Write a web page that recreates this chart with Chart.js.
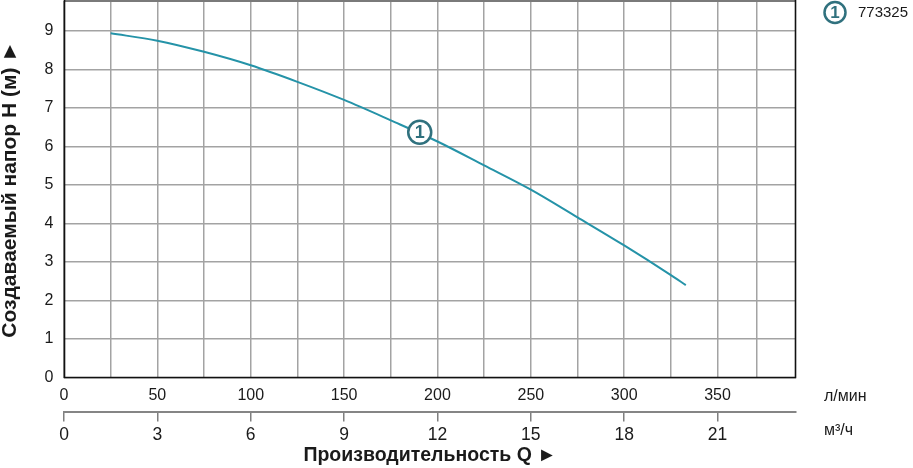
<!DOCTYPE html>
<html><head><meta charset="utf-8">
<script src="https://cdn.jsdelivr.net/npm/chart.js@4/dist/chart.umd.min.js"></script>
<style>html,body{margin:0;padding:0;background:#fff;overflow:hidden}canvas{display:block}</style>
</head><body>
<canvas id="c" width="913" height="468"></canvas>
<script>
// ---- data ----
const flowLmin = [25, 50, 75, 100, 125, 150, 175, 200, 225, 250, 275, 300, 325, 333];
const headM    = [8.94, 8.75, 8.46, 8.11, 7.68, 7.21, 6.68, 6.13, 5.51, 4.88, 4.16, 3.43, 2.66, 2.40];
const seriesName = '773325';
const seriesNumber = '1';
const markerFlow = [190.5];
const markerHead = [6.37];
const yTickValues = [0, 1, 2, 3, 4, 5, 6, 7, 8, 9];
const xGridValues = [0, 25, 50, 75, 100, 125, 150, 175, 200, 225, 250, 275, 300, 325, 350, 371];
const xLabelValues = [0, 50, 100, 150, 200, 250, 300, 350];
const x2TickValues = [0, 3, 6, 9, 12, 15, 18, 21];
const xMax = 392, yMax = 9.78, x2Max = 23.52;
const unitLmin = 'л/мин', unitM3h = 'м³/ч';
const yTitle = 'Создаваемый напор H (м) ►';
const xTitle = 'Производительность Q ►';

// ---- styles ----
const FONT = "'Liberation Sans', Arial, sans-serif";
const LINE = '#2593a8';
const MARK = '#30717e';
const GRID = '#a3a3a3';
const TXT = '#1a1a1a';
Chart.defaults.font.family = FONT;
Chart.defaults.color = TXT;

function noPad(s) { s.paddingTop = 0; s.paddingBottom = 0; s.paddingLeft = 0; s.paddingRight = 0; }

const extras = {
  id: 'extras',
  afterDraw(chart) {
    const ctx = chart.ctx, a = chart.chartArea;
    const xs = chart.scales.x, ys = chart.scales.y;
    ctx.save();
    // frame
    ctx.strokeStyle = '#7a7a7a'; ctx.lineWidth = 2;
    ctx.beginPath(); ctx.moveTo(a.left, 1); ctx.lineTo(a.right, 1); ctx.stroke();
    ctx.strokeStyle = '#111'; ctx.lineWidth = 1.6;
    ctx.beginPath();
    ctx.moveTo(a.left + 0.5, 0); ctx.lineTo(a.left + 0.5, a.bottom);
    ctx.lineTo(a.right - 0.5, a.bottom); ctx.lineTo(a.right - 0.5, 0);
    ctx.stroke();
    // curve marker
    markerFlow.forEach((q, i) => {
      const px = xs.getPixelForValue(q), py = ys.getPixelForValue(markerHead[i]);
      ctx.beginPath(); ctx.arc(px, py, 11.5, 0, Math.PI * 2);
      ctx.fillStyle = '#fff'; ctx.fill();
      ctx.lineWidth = 2.5; ctx.strokeStyle = MARK; ctx.stroke();
      ctx.fillStyle = MARK; ctx.font = 'bold 18px ' + FONT;
      ctx.textAlign = 'center'; ctx.textBaseline = 'middle';
      ctx.fillText(seriesNumber, px, py + 1);
    });
    // legend
    const lx = a.right + 39, ly = 12.5;
    ctx.beginPath(); ctx.arc(lx, ly, 10.5, 0, Math.PI * 2);
    ctx.fillStyle = '#fff'; ctx.fill();
    ctx.lineWidth = 2.5; ctx.strokeStyle = MARK; ctx.stroke();
    ctx.fillStyle = MARK; ctx.font = 'bold 17px ' + FONT;
    ctx.textAlign = 'center'; ctx.textBaseline = 'middle';
    ctx.fillText(seriesNumber, lx, ly + 1);
    ctx.fillStyle = TXT; ctx.font = '15px ' + FONT; ctx.textAlign = 'left';
    ctx.fillText(seriesName, lx + 23, ly + 0.5);
    // units
    ctx.font = '16px ' + FONT;
    ctx.fillText(unitLmin, a.right + 28, 397);
    ctx.fillText(unitM3h, a.right + 28, 431);
    ctx.restore();
  }
};

new Chart(document.getElementById('c'), {
  type: 'line',
  data: {
    datasets: [{
      label: seriesName,
      data: flowLmin.map((q, i) => ({ x: q, y: headM[i] })),
      borderColor: LINE, borderWidth: 2, pointRadius: 0,
      cubicInterpolationMode: 'monotone', fill: false,
      xAxisID: 'x', yAxisID: 'y'
    }]
  },
  options: {
    responsive: false, animation: false, devicePixelRatio: 1,
    layout: { padding: { left: 0, right: 117, top: 1, bottom: 0 } },
    plugins: { legend: { display: false }, tooltip: { enabled: false } },
    scales: {
      y: {
        type: 'linear', position: 'left', min: 0, max: yMax,
        afterBuildTicks: s => { s.ticks = yTickValues.map(v => ({ value: v })); },
        afterFit: s => { s.width = 64; noPad(s); },
        grid: { color: GRID, lineWidth: 1.5, drawTicks: false },
        border: { display: false },
        ticks: { padding: 10.5, font: { size: 16 }, color: TXT },
        title: { display: true, text: yTitle, font: { size: 21, weight: 'bold', lineHeight: 1 }, color: TXT, padding: { top: 0, bottom: 0 } }
      },
      x: {
        type: 'linear', position: 'bottom', min: 0, max: xMax,
        afterBuildTicks: s => { s.ticks = xGridValues.map(v => ({ value: v })); },
        afterFit: s => { s.height = 34; noPad(s); },
        grid: { color: GRID, lineWidth: 1.5, drawTicks: false },
        border: { display: false },
        ticks: { padding: 8.5, font: { size: 16 }, color: TXT, maxRotation: 0, autoSkip: false,
          callback: v => xLabelValues.includes(v) ? String(v) : '' }
      },
      x2: {
        type: 'linear', position: 'bottom', min: 0, max: x2Max,
        afterBuildTicks: s => { s.ticks = x2TickValues.map(v => ({ value: v })); },
        afterFit: s => { s.height = 56.5; noPad(s); },
        grid: { drawOnChartArea: false, drawTicks: true, tickLength: 10, color: '#7f7f7f', lineWidth: 1.5 },
        border: { display: true, color: '#858585', width: 2 },
        ticks: { padding: 3, font: { size: 17.5 }, color: TXT, maxRotation: 0, autoSkip: false },
        title: { display: true, text: xTitle, font: { size: 19.5, weight: 'bold', lineHeight: 1.2 }, color: TXT, padding: { top: 0, bottom: 1 } }
      }
    }
  },
  plugins: [extras]
});
</script>
</body></html>
